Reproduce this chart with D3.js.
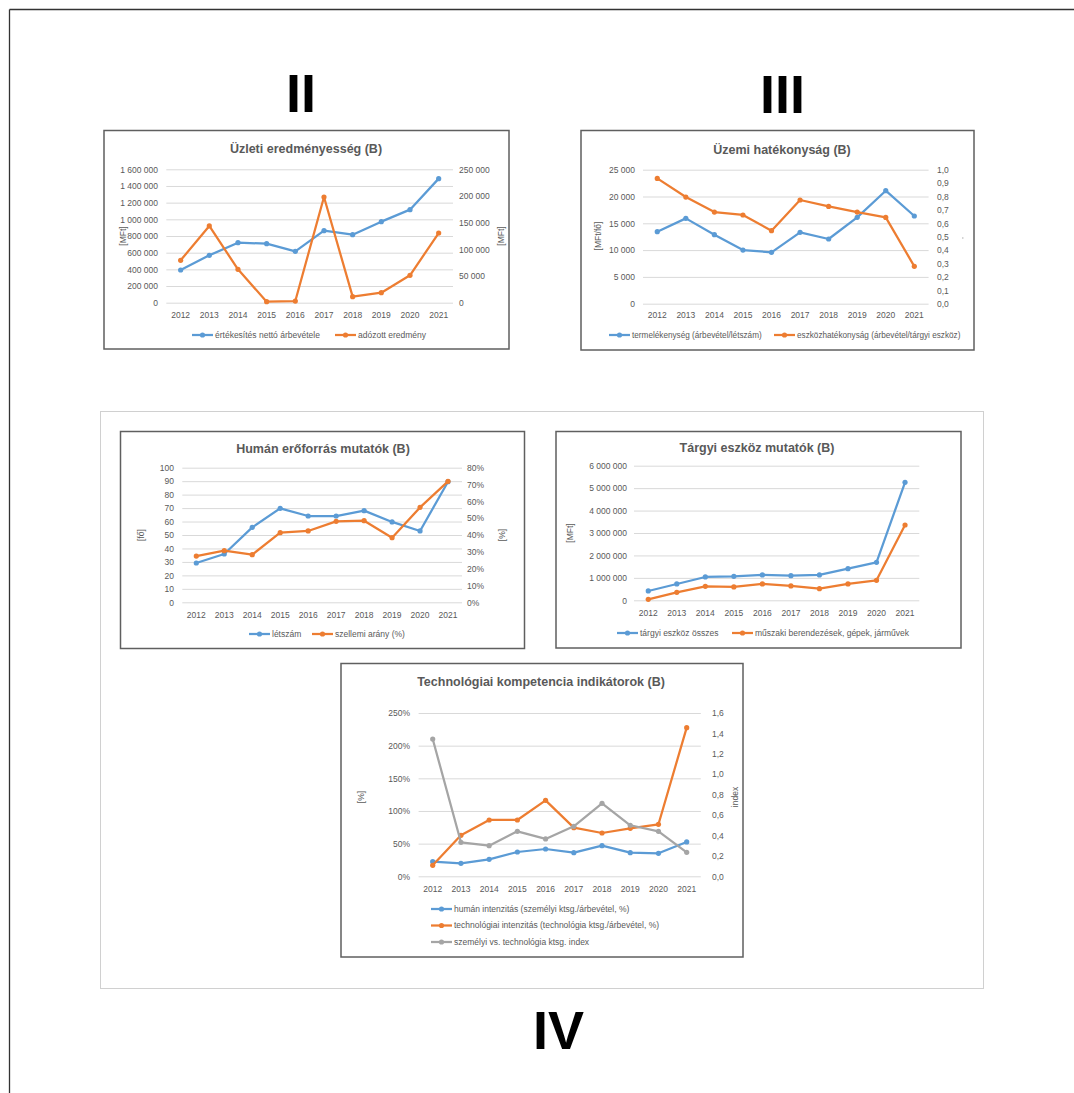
<!DOCTYPE html>
<html><head><meta charset="utf-8">
<script src="https://cdn.jsdelivr.net/npm/d3@7"></script>
<style>
html,body{margin:0;padding:0;background:#fff;}
svg text{font-family:"Liberation Sans",Arial,sans-serif;}
</style></head>
<body>
<svg id="c" width="1074" height="1093"></svg>
<script>
// ---------- DATA ----------
const years = ["2012","2013","2014","2015","2016","2017","2018","2019","2020","2021"];

// II – Üzleti eredményesség (B)
const revenue = [392000, 568000, 720000, 708000, 616000, 864000, 816000, 972000, 1116000, 1488000];
const profitAfterTax = [79400, 143800, 62500, 1900, 3100, 198000, 11300, 18800, 51300, 130600];

// III – Üzemi hatékonyság (B)
const productivity = [13430, 15920, 12870, 10010, 9580, 13310, 12070, 16110, 21080, 16360];
const assetEfficiency = [0.935, 0.796, 0.684, 0.662, 0.545, 0.774, 0.726, 0.684, 0.644, 0.279];

// Humán erőforrás mutatók (B)
const headcount = [29.2, 35.9, 55.7, 69.8, 64.1, 64.1, 68.1, 59.7, 53.0, 89.6];
const whiteCollarShare = [0.275, 0.307, 0.283, 0.414, 0.424, 0.481, 0.485, 0.384, 0.564, 0.719];

// Tárgyi eszköz mutatók (B)
const fixedAssetsTotal = [416000, 728000, 1040000, 1069000, 1129000, 1099000, 1129000, 1411000, 1693000, 5257000];
const machinery = [45000, 356000, 624000, 594000, 728000, 639000, 520000, 728000, 891000, 3356000];

// Technológiai kompetencia indikátorok (B)
const humanIntensity = [0.224, 0.199, 0.260, 0.372, 0.418, 0.362, 0.469, 0.362, 0.352, 0.526];
const techIntensity = [0.168, 0.628, 0.862, 0.862, 1.163, 0.745, 0.663, 0.735, 0.796, 2.276];
const costIndex = [1.345, 0.333, 0.300, 0.441, 0.366, 0.490, 0.715, 0.500, 0.441, 0.235];

// tick values
const ticksRevenue = [0,200000,400000,600000,800000,1000000,1200000,1400000,1600000];
const ticksProfit = [0,50000,100000,150000,200000,250000];
const ticksProductivity = [0,5000,10000,15000,20000,25000];
const ticksAssetEff = [0,0.1,0.2,0.3,0.4,0.5,0.6,0.7,0.8,0.9,1.0];
const ticksHeadcount = [0,10,20,30,40,50,60,70,80,90,100];
const ticksShare = [0,0.1,0.2,0.3,0.4,0.5,0.6,0.7,0.8];
const ticksAssets = [0,1000000,2000000,3000000,4000000,5000000,6000000];
const ticksIntensity = [0,0.5,1.0,1.5,2.0,2.5];
const ticksIndex = [0,0.2,0.4,0.6,0.8,1.0,1.2,1.4,1.6];

// ---------- STYLE ----------
const BLUE="#5B9BD5", ORANGE="#ED7D31", GRAY="#A5A5A5";
const TXT="#595959", GRID="#D9D9D9";
const loc = d3.formatLocale({decimal:",", thousands:"\u00a0", grouping:[3], currency:["",""], percent:"%"});
const fInt = loc.format(",.0f");
const fDec = loc.format(".1f");
const fPct = loc.format(".0%");

const svg = d3.select("#c");

// outer page frame
svg.append("line").attr("x1",9.5).attr("y1",9.5).attr("x2",1074).attr("y2",9.5).attr("stroke","#333").attr("stroke-width",1.3);
svg.append("line").attr("x1",9.5).attr("y1",9.5).attr("x2",9.5).attr("y2",1093).attr("stroke","#333").attr("stroke-width",1.3);

// group frame
svg.append("rect").attr("x",100.5).attr("y",411.5).attr("width",883).attr("height",577)
  .attr("fill","none").attr("stroke","#D0D0D0").attr("stroke-width",1);

// roman numerals
function roman(txt,x,y){
  svg.append("text").attr("x",x).attr("y",y).attr("text-anchor","middle")
    .attr("font-size",54).attr("font-weight","bold").attr("fill","#000").text(txt);
}
roman("II",301,112);
roman("III",782.5,113);
roman("IV",558.5,1049);

function chart(cfg){
  const g = svg.append("g");
  g.append("rect").attr("x",cfg.box[0]).attr("y",cfg.box[1]).attr("width",cfg.box[2]).attr("height",cfg.box[3])
    .attr("fill","#fff").attr("stroke","#5f5f5f").attr("stroke-width",1.5);
  g.append("text").attr("x",cfg.titleX).attr("y",cfg.titleY).attr("text-anchor","middle")
    .attr("font-size",12.5).attr("font-weight","bold").attr("fill",TXT).text(cfg.title);

  const x = d3.scaleBand().domain(years).range([cfg.plot.left,cfg.plot.right]);
  const yL = d3.scaleLinear().domain(cfg.left.domain).range([cfg.plot.bottom,cfg.plot.top]);
  const yR = cfg.right ? d3.scaleLinear().domain(cfg.right.domain).range([cfg.plot.bottom,cfg.plot.top]) : null;

  // gridlines
  const grid = d3.axisLeft(yL).tickValues(cfg.left.ticks).tickSize(-(cfg.plot.right-cfg.plot.left)).tickFormat("");
  g.append("g").attr("transform",`translate(${cfg.plot.left},0)`).call(grid)
    .call(s=>{s.select(".domain").remove(); s.selectAll("line").attr("stroke",GRID).attr("stroke-width",1);});

  // left axis labels
  const la = d3.axisLeft(yL).tickValues(cfg.left.ticks).tickSize(0).tickPadding(0).tickFormat(cfg.left.fmt);
  g.append("g").attr("transform",`translate(${cfg.leftLabelX},0)`).call(la)
    .call(s=>{s.select(".domain").remove(); s.selectAll("text").attr("font-size",8.5).attr("fill",TXT).attr("font-family","Liberation Sans, Arial, sans-serif");});

  if(yR){
    const ra = d3.axisRight(yR).tickValues(cfg.right.ticks).tickSize(0).tickPadding(0).tickFormat(cfg.right.fmt);
    g.append("g").attr("transform",`translate(${cfg.rightLabelX},0)`).call(ra)
      .call(s=>{s.select(".domain").remove(); s.selectAll("text").attr("font-size",8.5).attr("fill",TXT).attr("font-family","Liberation Sans, Arial, sans-serif");});
  }

  // x axis labels
  const xa = d3.axisBottom(x).tickSize(0).tickPadding(0);
  g.append("g").attr("transform",`translate(0,${cfg.xLabelY})`).call(xa)
    .call(s=>{s.select(".domain").remove(); s.selectAll("text").attr("font-size",8.5).attr("fill",TXT).attr("dy","0.32em").attr("font-family","Liberation Sans, Arial, sans-serif");});

  // axis titles
  cfg.axisTitles.forEach(t=>{
    g.append("text").attr("transform",`translate(${t.x},${t.y}) rotate(-90)`).attr("text-anchor","middle")
      .attr("dy","0.32em").attr("font-size",8.5).attr("fill",TXT).text(t.text);
  });

  // series
  cfg.series.forEach(s=>{
    const y = s.axis==="right" ? yR : yL;
    const line = d3.line().x((d,i)=>x(years[i])+x.bandwidth()/2).y(d=>y(d));
    g.append("path").datum(s.values).attr("d",line).attr("fill","none").attr("stroke",s.color)
      .attr("stroke-width",2.25).attr("stroke-linejoin","round").attr("stroke-linecap","round");
    g.selectAll(null).data(s.values).enter().append("circle")
      .attr("cx",(d,i)=>x(years[i])+x.bandwidth()/2).attr("cy",d=>y(d)).attr("r",2.6).attr("fill",s.color);
  });

  // legend
  cfg.legend.forEach((l,i)=>{
    const s = cfg.series[i];
    g.append("line").attr("x1",l.x).attr("x2",l.x+21).attr("y1",l.y).attr("y2",l.y)
      .attr("stroke",s.color).attr("stroke-width",2.25);
    g.append("circle").attr("cx",l.x+10.5).attr("cy",l.y).attr("r",2.6).attr("fill",s.color);
    g.append("text").attr("x",l.x+23).attr("y",l.y).attr("dy","0.32em").attr("font-size",cfg.legendSize||8.5).attr("fill",TXT).text(s.name);
  });

  if(cfg.extra) cfg.extra(g);
}

// II
chart({
  box:[104,130.5,405,218.5], title:"Üzleti eredményesség (B)", titleX:306, titleY:153,
  plot:{left:166.3,right:453,top:169.3,bottom:302.7},
  left:{domain:[0,1600000],ticks:ticksRevenue,fmt:fInt}, leftLabelX:158,
  right:{domain:[0,250000],ticks:ticksProfit,fmt:fInt}, rightLabelX:459,
  xLabelY:315,
  axisTitles:[{text:"[MFt]",x:123,y:236},{text:"[MFt]",x:501,y:236}],
  series:[
    {name:"értékesítés nettó árbevétele",values:revenue,color:BLUE,axis:"left"},
    {name:"adózott eredmény",values:profitAfterTax,color:ORANGE,axis:"right"}
  ],
  legend:[{x:192,y:335},{x:335,y:335}]
});

// III
chart({
  box:[581,130.5,393,219.5], title:"Üzemi hatékonyság (B)", titleX:782, titleY:154,
  plot:{left:643,right:928.6,top:169.7,bottom:303.7},
  left:{domain:[0,25000],ticks:ticksProductivity,fmt:fInt}, leftLabelX:635,
  right:{domain:[0,1],ticks:ticksAssetEff,fmt:fDec}, rightLabelX:937,
  xLabelY:315.7,
  axisTitles:[{text:"[MFt/fő]",x:598,y:236}],
  series:[
    {name:"termelékenység (árbevétel/létszám)",values:productivity,color:BLUE,axis:"left"},
    {name:"eszközhatékonyság (árbevétel/tárgyi eszköz)",values:assetEfficiency,color:ORANGE,axis:"right"}
  ],
  legend:[{x:609,y:335},{x:774,y:335}], legendSize:8.2,
  extra:g=>g.append("rect").attr("x",962).attr("y",237.5).attr("width",1.5).attr("height",1).attr("fill","#aaa")
});

// Humán
chart({
  box:[120.5,431.5,404,217], title:"Humán erőforrás mutatók (B)", titleX:323, titleY:453,
  plot:{left:182.3,right:462,top:467.7,bottom:602.3},
  left:{domain:[0,100],ticks:ticksHeadcount,fmt:fInt}, leftLabelX:174,
  right:{domain:[0,0.8],ticks:ticksShare,fmt:fPct}, rightLabelX:467,
  xLabelY:615,
  axisTitles:[{text:"[fő]",x:141,y:535},{text:"[%]",x:502,y:535}],
  series:[
    {name:"létszám",values:headcount,color:BLUE,axis:"left"},
    {name:"szellemi arány (%)",values:whiteCollarShare,color:ORANGE,axis:"right"}
  ],
  legend:[{x:249,y:634},{x:312,y:634}]
});

// Tárgyi eszköz
chart({
  box:[556,431.5,405,216.5], title:"Tárgyi eszköz mutatók (B)", titleX:757, titleY:452,
  plot:{left:634,right:919.3,top:465.7,bottom:600.3},
  left:{domain:[0,6000000],ticks:ticksAssets,fmt:fInt}, leftLabelX:627,
  right:null,
  xLabelY:613,
  axisTitles:[{text:"[MFt]",x:570,y:533}],
  series:[
    {name:"tárgyi eszköz összes",values:fixedAssetsTotal,color:BLUE,axis:"left"},
    {name:"műszaki berendezések, gépek, járművek",values:machinery,color:ORANGE,axis:"left"}
  ],
  legend:[{x:617,y:633},{x:732,y:633}]
});

// Technológiai
chart({
  box:[341,663.5,402,293.5], title:"Technológiai kompetencia indikátorok (B)", titleX:541, titleY:686,
  plot:{left:418.6,right:700.8,top:713,bottom:876.3},
  left:{domain:[0,2.5],ticks:ticksIntensity,fmt:fPct}, leftLabelX:410,
  right:{domain:[0,1.6],ticks:ticksIndex,fmt:fDec}, rightLabelX:712,
  xLabelY:889,
  axisTitles:[{text:"[%]",x:361,y:797},{text:"index",x:735,y:797}],
  series:[
    {name:"humán intenzitás (személyi ktsg./árbevétel, %)",values:humanIntensity,color:BLUE,axis:"left"},
    {name:"technológiai intenzitás (technológia ktsg./árbevétel, %)",values:techIntensity,color:ORANGE,axis:"left"},
    {name:"személyi vs. technológia ktsg. index",values:costIndex,color:GRAY,axis:"right"}
  ],
  legend:[{x:431,y:909},{x:431,y:925.5},{x:431,y:942}]
});
</script>
</body></html>
